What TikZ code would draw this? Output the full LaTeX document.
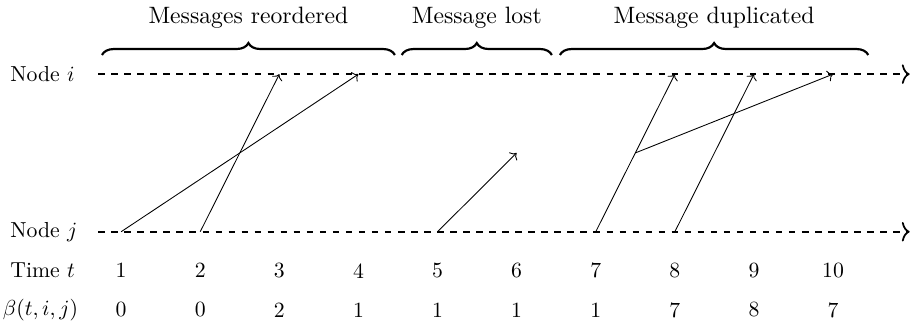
\documentclass[tikz,border=0pt]{standalone}
\usetikzlibrary{decorations.pathreplacing,arrows.meta}

\tikzset{timeline/.style={dashed,line width=1.1pt,-{To[length=3.6pt,width=9pt,line width=0.8pt]}},
    msg/.style={->},
    grp/.style={decorate,decoration={brace,amplitude=5.5pt},line width=1pt},
    grplabel/.style={scale=1.09}}

\begin{document}
\begin{tikzpicture}
        \useasboundingbox (0,0) rectangle (14.79,5.29);
        \node[anchor=west,inner sep=0] (ni) at (0.16,4.09) {Node $i$};
        \node[anchor=west,inner sep=0] (nj) at (0.16,1.54) {Node $j$};
        \node[anchor=west,inner sep=0] (tt) at (0.16,0.91) {Time $t$};
        \node[anchor=west,inner sep=0] (bt) at (0.04,0.275) {$\beta(t,i,j)$};
        \coordinate (is) at (1.59,4.09);
        \coordinate (ie) at (14.72,4.09);
        \coordinate (js) at (1.59,1.54);
        \coordinate (je) at (14.72,1.54);
        \draw[timeline] (is) -- (ie);
        \draw[timeline] (js) -- (je);
        \foreach \k/\b in {1/0,2/0,3/2,4/1,5/1,6/1,7/1,8/7,9/8,10/7}{
            \coordinate (i\k) at (0.68+1.28*\k,4.09);
            \coordinate (j\k) at (0.68+1.28*\k,1.54);
            \node (t\k) at (0.68+1.28*\k,0.91) {\k};
            \node (b\k) at (0.68+1.28*\k,0.275) {\b};
        }
        \coordinate (lost) at (8.36,2.815);
        \coordinate (dup) at (10.28,2.815);
        \draw[msg] (j1) -- (i4);
        \draw[msg] (j2) -- (i3);
        \draw[msg] (j5) -- (lost);
        \draw[msg] (j7) -- (i8);
        \draw[msg] (dup) -- (i10);
        \draw[msg] (j8) -- (i9);
        \draw[grp] (1.65,4.40) -- (6.39,4.40);
        \draw[grp] (6.50,4.40) -- (8.93,4.40);
        \draw[grp] (9.06,4.40) -- (14.05,4.40);
        \node[grplabel] (reord) at (4.02,5.01) {Messages reordered};
        \node[grplabel] (lostl) at (7.715,5.01) {Message lost};
        \node[grplabel] (dupl) at (11.555,5.01) {Message duplicated};
    \end{tikzpicture}
\end{document}
